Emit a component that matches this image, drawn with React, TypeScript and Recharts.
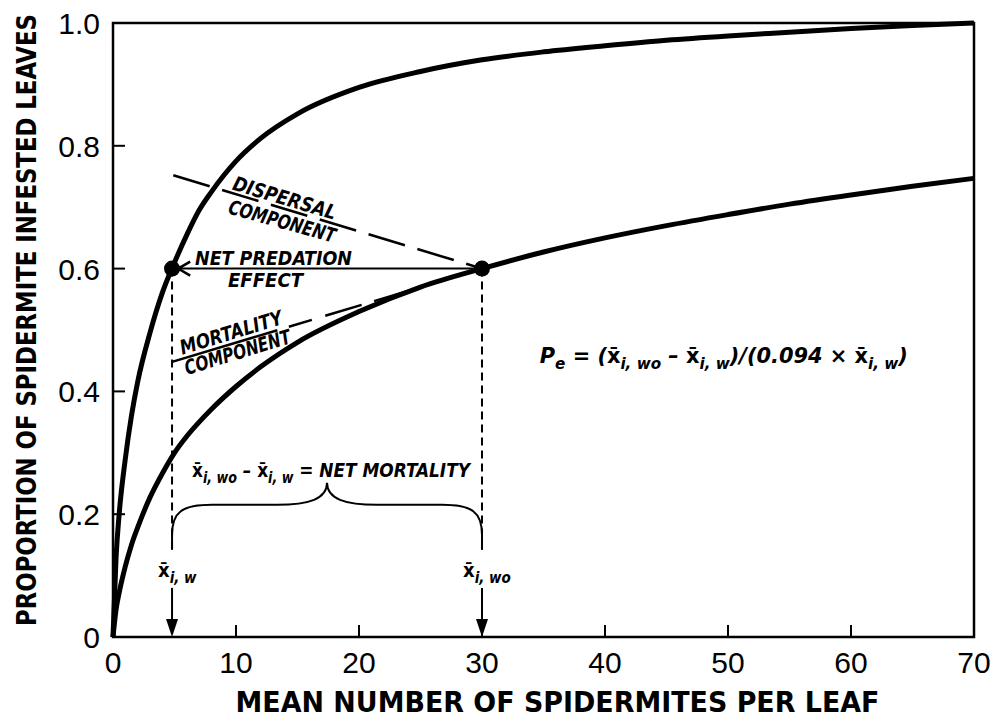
import React from "react";
import {
  LineChart,
  Line,
  XAxis,
  YAxis,
  ReferenceArea,
  ReferenceLine,
  ReferenceDot,
} from "recharts";

// mean number of spidermites per leaf where the curves were read
const meanPerLeaf = [0, 0.25, 0.5, 1, 1.5, 2, 3, 4, 5, 6, 7, 8, 10, 12, 15, 20, 25, 30, 35, 40, 45, 50, 55, 60, 65, 70];
// upper curve (with predators)
const infestedWith = [0, 0.13, 0.2, 0.29, 0.36, 0.415, 0.495, 0.56, 0.61, 0.655, 0.695, 0.725, 0.775, 0.812, 0.852, 0.895, 0.921, 0.94, 0.953, 0.963, 0.972, 0.979, 0.985, 0.991, 0.996, 1.0];
// lower curve (without predators)
const infestedWithout = [0, 0.045, 0.072, 0.115, 0.15, 0.178, 0.227, 0.266, 0.3, 0.327, 0.35, 0.371, 0.408, 0.44, 0.48, 0.53, 0.57, 0.6, 0.627, 0.65, 0.67, 0.688, 0.705, 0.72, 0.734, 0.747];

const xTicks = [0, 10, 20, 30, 40, 50, 60, 70];
const yTicks = [0, 0.2, 0.4, 0.6, 0.8, 1.0];
const yTickLabels = ["0", "0.2", "0.4", "0.6", "0.8", "1.0"];

// the two means read at the same proportion
const proportion = 0.6;
const meanWith = 4.8;
const meanWithout = 30;

const data = meanPerLeaf.map((x, i) => ({
  x,
  upper: infestedWith[i],
  lower: infestedWithout[i],
}));

const tickFont = '"Liberation Sans", Arial, sans-serif';
const titleFont = '"DejaVu Sans Condensed", "DejaVu Sans", sans-serif';
const noteStyle: React.CSSProperties = {
  fontFamily: titleFont,
  fontStyle: "italic",
  fontWeight: 700,
};

const XTick = (props: any) => {
  const { x, y, payload } = props;
  const inner = payload.value > 0 && payload.value < 70;
  return (
    <g>
      {inner && <line x1={x} x2={x} y1={y} y2={y - 12} stroke="#000" strokeWidth={2} />}
      <text x={x} y={y + 36} textAnchor="middle" fontFamily={tickFont} fontSize={30} fill="#000">
        {payload.value}
      </text>
    </g>
  );
};

const YTick = (props: any) => {
  const { x, y, payload, index } = props;
  const inner = payload.value > 0 && payload.value < 1;
  return (
    <g>
      {inner && <line x1={x} x2={x + 12} y1={y} y2={y} stroke="#000" strokeWidth={2} />}
      <text x={x - 13} y={y + 11} textAnchor="end" fontFamily={tickFont} fontSize={30} fill="#000">
        {yTickLabels[index]}
      </text>
    </g>
  );
};

const DownArrow = (props: any) => {
  const { x1, y1, x2, y2 } = props;
  return (
    <g>
      <line x1={x1} y1={y1} x2={x2} y2={y2 - 14} stroke="#000" strokeWidth={2} />
      <path d={`M${x2 - 6},${y2 - 18} L${x2 + 6},${y2 - 18} L${x2},${y2} Z`} fill="#000" />
    </g>
  );
};

const LeftArrow = (props: any) => {
  const { x1, y1, x2, y2 } = props;
  return (
    <g fill="none" stroke="#000" strokeWidth={2}>
      <line x1={x1} y1={y1} x2={x2} y2={y2} />
      <path d={`M${x2 + 12},${y2 - 7} L${x2},${y2} L${x2 + 12},${y2 + 7}`} strokeWidth={2.5} />
    </g>
  );
};

const Brace = (props: any) => {
  const { x1, y1, x2 } = props;
  const mid = (x1 + x2) / 2;
  const bar = y1 - 45;
  const d = [
    `M${x1},${y1}`,
    `L${x1},${y1 - 15}`,
    `C${x1},${bar + 7} ${x1 + 10},${bar} ${x1 + 40},${bar}`,
    `L${mid - 50},${bar}`,
    `C${mid - 18},${bar} ${mid},${bar - 6} ${mid},${bar - 22}`,
    `C${mid},${bar - 6} ${mid + 18},${bar} ${mid + 50},${bar}`,
    `L${x2 - 40},${bar}`,
    `C${x2 - 10},${bar} ${x2},${bar + 7} ${x2},${y1 - 15}`,
    `L${x2},${y1}`,
  ].join(" ");
  return <path d={d} fill="none" stroke="#000" strokeWidth={2} />;
};

// text placed at a data position
const note = (key: string, x: number, y: number, render: (cx: number, cy: number) => React.ReactElement) => (
  <ReferenceDot
    key={key}
    x={x}
    y={y}
    r={1}
    ifOverflow="visible"
    fill="none"
    stroke="none"
    shape={(p: any) => render(p.cx, p.cy)}
  />
);

const word = (text: string, len: number, angle = 0) => (cx: number, cy: number) => (
  <text
    x={cx}
    y={cy}
    textAnchor="middle"
    fontSize={20}
    textLength={len}
    lengthAdjust="spacingAndGlyphs"
    transform={angle ? `rotate(${angle} ${cx} ${cy})` : undefined}
    style={noteStyle}
    fill="#000"
  >
    {text}
  </text>
);

const XBAR = "x\u0304";

export default function App() {
  return (
    <div style={{ position: "absolute", left: 0, top: 0, background: "#fff" }}>
      <LineChart width={1001} height={720} data={data} margin={{ top: 23, right: 27, bottom: 0, left: 0 }}>
        <XAxis
          dataKey="x"
          type="number"
          domain={[0, 70]}
          ticks={xTicks}
          interval={0}
          height={83}
          axisLine={false}
          tickLine={false}
          tickSize={0}
          tickMargin={0}
          tick={(p: any) => <XTick {...p} />}
          label={{
            content: (p: any) => {
              const vb = p.viewBox;
              return (
                <text
                  x={vb.x + vb.width / 2 + 14}
                  y={vb.y + 75}
                  textAnchor="middle"
                  fontFamily={titleFont}
                  fontWeight={700}
                  fontSize={28}
                  textLength={644}
                  lengthAdjust="spacingAndGlyphs"
                  fill="#000"
                >
                  MEAN NUMBER OF SPIDERMITES PER LEAF
                </text>
              );
            },
          }}
        />
        <YAxis
          type="number"
          domain={[0, 1]}
          ticks={yTicks}
          interval={0}
          width={113}
          axisLine={false}
          tickLine={false}
          tickSize={0}
          tickMargin={0}
          tick={(p: any) => <YTick {...p} />}
          label={{
            content: (p: any) => {
              const vb = p.viewBox;
              const cx = vb.x + 36;
              const cy = vb.y + vb.height / 2 - 10;
              return (
                <g transform={`translate(${cx} ${cy}) rotate(-90)`}>
                  <text
                    x={0}
                    y={0}
                    textAnchor="middle"
                    fontFamily={titleFont}
                    fontWeight={700}
                    fontSize={26}
                    textLength={612}
                    lengthAdjust="spacingAndGlyphs"
                    fill="#000"
                  >
                    PROPORTION OF SPIDERMITE INFESTED LEAVES
                  </text>
                </g>
              );
            },
          }}
        />

        <ReferenceArea x1={0} x2={70} y1={0} y2={1} fill="none" stroke="#000" strokeWidth={2.5} ifOverflow="visible" />

        <Line type="monotone" dataKey="upper" stroke="#000" strokeWidth={5} dot={false} isAnimationActive={false} />
        <Line type="monotone" dataKey="lower" stroke="#000" strokeWidth={5} dot={false} isAnimationActive={false} />

        {/* dispersal and mortality components */}
        <ReferenceLine
          segment={[{ x: 4.9, y: 0.752 }, { x: meanWithout, y: proportion }]}
          stroke="#000"
          strokeWidth={2.5}
          strokeDasharray="38 13"
          ifOverflow="visible"
        />
        <ReferenceLine
          segment={[{ x: meanWith, y: 0.448 }, { x: meanWithout, y: proportion }]}
          stroke="#000"
          strokeWidth={2.5}
          strokeDasharray="110 12 24 14 38 13"
          ifOverflow="visible"
        />

        {/* net predation effect */}
        <ReferenceLine
          segment={[{ x: meanWithout, y: proportion }, { x: 5.3, y: proportion }]}
          ifOverflow="visible"
          shape={(p: any) => <LeftArrow {...p} />}
        />

        {/* drops to the axis */}
        <ReferenceLine
          segment={[{ x: meanWith, y: proportion }, { x: meanWith, y: 0.142 }]}
          stroke="#000"
          strokeWidth={2}
          strokeDasharray="8 5"
          ifOverflow="visible"
        />
        <ReferenceLine
          segment={[{ x: meanWithout, y: proportion }, { x: meanWithout, y: 0.142 }]}
          stroke="#000"
          strokeWidth={2}
          strokeDasharray="8 5"
          ifOverflow="visible"
        />
        <ReferenceLine
          segment={[{ x: meanWith, y: 0.08 }, { x: meanWith, y: 0 }]}
          ifOverflow="visible"
          shape={(p: any) => <DownArrow {...p} />}
        />
        <ReferenceLine
          segment={[{ x: meanWithout, y: 0.08 }, { x: meanWithout, y: 0 }]}
          ifOverflow="visible"
          shape={(p: any) => <DownArrow {...p} />}
        />
        <ReferenceLine
          segment={[{ x: meanWith, y: 0.142 }, { x: meanWithout, y: 0.142 }]}
          ifOverflow="visible"
          shape={(p: any) => <Brace {...p} />}
        />

        <ReferenceDot x={meanWith} y={proportion} r={8} fill="#000" stroke="none" ifOverflow="visible" />
        <ReferenceDot x={meanWithout} y={proportion} r={8} fill="#000" stroke="none" ifOverflow="visible" />

        {note("disp1", 13.8, 0.704, word("DISPERSAL", 107, 16.5))}
        {note("disp2", 13.6, 0.666, word("COMPONENT", 110, 15.5))}
        {note("pred1", 13.05, 0.606, word("NET PREDATION", 157))}
        {note("pred2", 12.4, 0.57, word("EFFECT", 75))}
        {note("mort1", 9.76, 0.485, word("MORTALITY", 106, -17))}
        {note("mort2", 10.3, 0.453, word("COMPONENT", 110, -17))}

        {note("netmort", 6.42, 0.2606, (cx, cy) => (
          <text x={cx} y={cy} fontSize={20} style={noteStyle} fill="#000" textLength={278} lengthAdjust="spacingAndGlyphs">
            <tspan fontStyle="normal">{XBAR}</tspan>
            <tspan dy={6} fontSize={15}>i, wo</tspan>
            <tspan dy={-6}> – </tspan>
            <tspan fontStyle="normal">{XBAR}</tspan>
            <tspan dy={6} fontSize={15}>i, w</tspan>
            <tspan dy={-6}> = NET MORTALITY</tspan>
          </text>
        ))}
        {note("labw", 3.66, 0.0977, (cx, cy) => (
          <text x={cx} y={cy} fontSize={20} style={noteStyle} fill="#000">
            <tspan fontStyle="normal">{XBAR}</tspan>
            <tspan dy={6} fontSize={15}>i, w</tspan>
          </text>
        ))}
        {note("labwo", 28.46, 0.0977, (cx, cy) => (
          <text x={cx} y={cy} fontSize={20} style={noteStyle} fill="#000">
            <tspan fontStyle="normal">{XBAR}</tspan>
            <tspan dy={6} fontSize={15}>i, wo</tspan>
          </text>
        ))}
        {note("formula", 34.7, 0.446, (cx, cy) => (
          <text x={cx} y={cy} fontSize={22} style={noteStyle} fill="#000" textLength={368} lengthAdjust="spacingAndGlyphs">
            <tspan>P</tspan>
            <tspan dy={6} fontSize={16}>e</tspan>
            <tspan dy={-6}> = (</tspan>
            <tspan fontStyle="normal">{XBAR}</tspan>
            <tspan dy={6} fontSize={16}>i, wo</tspan>
            <tspan dy={-6}> – </tspan>
            <tspan fontStyle="normal">{XBAR}</tspan>
            <tspan dy={6} fontSize={16}>i, w</tspan>
            <tspan dy={-6}>)/(0.094 × </tspan>
            <tspan fontStyle="normal">{XBAR}</tspan>
            <tspan dy={6} fontSize={16}>i, w</tspan>
            <tspan dy={-6}>)</tspan>
          </text>
        ))}
      </LineChart>
    </div>
  );
}
